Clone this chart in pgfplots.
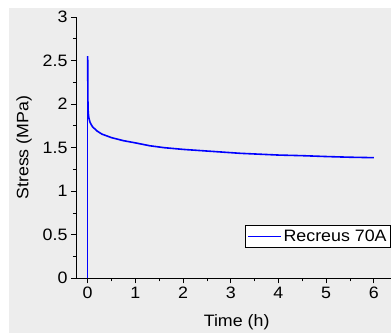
\documentclass[border=0pt]{standalone}
\usepackage{pgfplots}
\pgfplotsset{compat=1.18}
\usepackage{fontspec}
\setmainfont[FakeStretch=1.08]{Liberation Sans}
\definecolor{bgcol}{RGB}{237,237,237}
\definecolor{curve}{RGB}{0,0,255}
\begin{document}
\begin{tikzpicture}
\path[use as bounding box, fill=white] (-76pt,-54.7pt) rectangle (315pt,278.3pt);
\fill[bgcol] (-67pt,-54.7pt) rectangle (315pt,270.3pt);
\begin{axis}[at={(0,0)}, anchor=south west, scale only axis,
  width=315pt, height=261.3pt,
  axis lines=left, axis line style={-, line width=0.8pt, black},
  xmin=-0.245, xmax=6.36, ymin=0, ymax=3,
  xtick={0,1,2,3,4,5,6}, ytick={0,0.5,1,1.5,2,2.5,3},
  minor x tick num=1, minor y tick num=1,
  tick align=outside, major tick length=5pt, minor tick length=3pt,
  tick style={black, line width=0.8pt},
  /pgf/number format/assume math mode=true,
  tick label style={font=\fontsize{16.5}{19}\selectfont},
  label style={font=\fontsize{16.5}{19}\selectfont},
  xlabel={Time (h)}, ylabel={Stress (MPa)},
  xlabel style={at={(axis description cs:0.51,-0.167)}, anchor=center},
  ylabel style={at={(axis description cs:-0.165,0.5)}, anchor=center},
  legend style={at={(rel axis cs:1,0.115)}, anchor=south east, draw=black, line width=0.8pt,
    fill=white, font=\fontsize{16.5}{19}\selectfont, inner xsep=2pt, inner ysep=2.5pt,
    nodes={inner sep=2pt}},
  legend cell align=left,
  legend image code/.code={\draw[#1] (0pt,0pt) -- (33pt,0pt);},
  clip=false,
]
\addplot[curve, line width=0.8pt] coordinates {(0,0) (0,2.55)};
\addlegendentry{Recreus 70A}
\addplot[curve, line width=1.6pt, forget plot] coordinates {
(0,2.55) (0.003,2.2) (0.006,2.0) (0.012,1.9) (0.025,1.84) (0.05,1.79)
(0.1,1.74) (0.2,1.69) (0.3,1.655) (0.5,1.615) (0.75,1.58) (1,1.555)
(1.3,1.522) (1.6,1.5) (2,1.48) (2.4,1.465) (2.8,1.45) (3.2,1.435)
(3.6,1.425) (4,1.415) (4.5,1.408) (5,1.398) (5.5,1.39) (6,1.385)};
\end{axis}
\end{tikzpicture}
\end{document}
